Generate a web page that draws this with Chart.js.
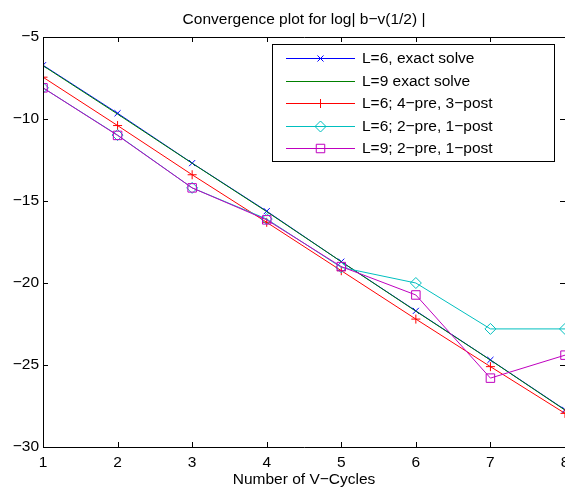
<!DOCTYPE html>
<html>
<head>
<meta charset="utf-8">
<script src="https://cdn.jsdelivr.net/npm/chart.js@4"></script>
<style>
  html, body { margin: 0; padding: 0; background: #fff; }
  #plot { display: block; }
</style>
</head>
<body>
<canvas id="plot" width="565" height="490"></canvas>
<script>
// error per V-cycle, log scale
const cycles = [1, 2, 3, 4, 5, 6, 7, 8];
const exactL6 = [-6.72, -9.65, -12.69, -15.62, -18.7, -21.7, -24.69, -27.73];
const exactL9 = [-6.75, -9.7, -12.7, -15.65, -18.7, -21.72, -24.7, -27.75];
const pre4post3L6 = [-7.45, -10.4, -13.4, -16.3, -19.25, -22.2, -25.1, -27.95];
const pre2post1L6 = [-8.1, -10.98, -14.2, -16.1, -19.05, -20.0, -22.8, -22.8];
const pre2post1L9 = [-8.1, -11.0, -14.2, -16.15, -19.0, -20.73, -25.8, -24.4];
const seriesNames = ['L=6, exact solve', 'L=9 exact solve', 'L=6; 4\u2212pre, 3\u2212post', 'L=6; 2\u2212pre, 1\u2212post', 'L=9; 2\u2212pre, 1\u2212post'];
const yTicks = [-30, -25, -20, -15, -10, -5];

const FONT = "'Liberation Sans', Arial, Helvetica, sans-serif";
const FSIZE = 15.5;

function points(vals) {
    return cycles.map((c, i) => ({x: c, y: vals[i]}));
}

function makeSet(idx, vals, color, style, radius, order) {
    return {
        label: seriesNames[idx],
        data: points(vals),
        borderColor: color,
        backgroundColor: 'rgba(0,0,0,0)',
        borderWidth: 1,
        pointStyle: style,
        pointRadius: radius,
        pointHoverRadius: radius,
        pointBorderColor: color,
        pointBackgroundColor: 'rgba(0,0,0,0)',
        pointBorderWidth: 1,
        tension: 0,
        order: order
    };
}

const minus = v => String(v).replace('-', '\u2212');

// axes frame with inward ticks on all four sides, title and legend box
const boxFrame = {
    id: 'boxFrame',
    afterDatasetsDraw(chart) {
        const {ctx, chartArea: a, scales} = chart;
        ctx.save();
        ctx.strokeStyle = '#000';
        ctx.lineWidth = 1;
        ctx.beginPath();
        ctx.rect(a.left + 0.5, a.top + 0.5, a.right - a.left, a.bottom - a.top);
        ctx.stroke();
        ctx.beginPath();
        scales.x.ticks.forEach(t => {
            const px = Math.round(scales.x.getPixelForValue(t.value)) + 0.5;
            ctx.moveTo(px, a.bottom); ctx.lineTo(px, a.bottom - 5);
            ctx.moveTo(px, a.top); ctx.lineTo(px, a.top + 5);
        });
        scales.y.ticks.forEach(t => {
            const py = Math.round(scales.y.getPixelForValue(t.value)) + 0.5;
            ctx.moveTo(a.left, py); ctx.lineTo(a.left + 5, py);
            ctx.moveTo(a.right, py); ctx.lineTo(a.right - 5, py);
        });
        ctx.stroke();
        ctx.restore();
    },
    afterDraw(chart) {
        const {ctx, chartArea: a} = chart;
        ctx.save();
        ctx.fillStyle = '#000';
        ctx.font = FSIZE + 'px ' + FONT;
        ctx.textAlign = 'center';
        ctx.textBaseline = 'middle';
        ctx.fillText('Convergence plot for log| b\u2212v(1/2) |', (a.left + a.right) / 2, 20);

        // legend
        const bx = 272.5, by = 44.5, bw = 282, bh = 117;
        ctx.fillStyle = '#fff';
        ctx.fillRect(bx, by, bw, bh);
        ctx.strokeStyle = '#000';
        ctx.lineWidth = 1;
        ctx.strokeRect(bx, by, bw, bh);
        ctx.textAlign = 'left';
        chart.data.datasets.forEach((ds, i) => {
            const y = Math.round(by + 13.5 + i * 22.5) + 0.5;
            ctx.strokeStyle = ds.borderColor;
            ctx.lineWidth = 1;
            ctx.beginPath();
            ctx.moveTo(286, y); ctx.lineTo(355, y);
            ctx.stroke();
            if (ds.pointRadius > 0) {
                ctx.fillStyle = 'rgba(0,0,0,0)';
                Chart.helpers.drawPoint(ctx, {
                    pointStyle: ds.pointStyle, radius: ds.pointRadius, rotation: 0, borderWidth: 1
                }, 320.5, y);
            }
            ctx.fillStyle = '#000';
            ctx.fillText(ds.label, 362, y);
        });
        ctx.restore();
    }
};

new Chart(document.getElementById('plot'), {
    type: 'line',
    data: {
        datasets: [
            makeSet(0, exactL6, '#0000ff', 'crossRot', 4.3, 5),
            makeSet(1, exactL9, '#008000', 'circle', 0, 4),
            makeSet(2, pre4post3L6, '#ff0000', 'cross', 4.5, 3),
            makeSet(3, pre2post1L6, '#00bfbf', 'rectRot', 5.5, 2),
            makeSet(4, pre2post1L9, '#bf00bf', 'rect', 6, 1)
        ]
    },
    options: {
        responsive: false,
        animation: false,
        events: [],
        layout: {autoPadding: false, padding: {top: 37, left: 0, right: 0, bottom: 0}},
        plugins: {
            legend: {display: false},
            title: {display: false},
            tooltip: {enabled: false}
        },
        scales: {
            x: {
                type: 'linear',
                min: 1,
                max: 8,
                grid: {display: false, drawTicks: false},
                border: {display: false},
                ticks: {
                    stepSize: 1,
                    padding: 6,
                    color: '#000',
                    font: {family: FONT, size: FSIZE},
                    maxRotation: 0,
                    autoSkip: false
                },
                title: {
                    display: true,
                    text: 'Number of V\u2212Cycles',
                    color: '#000',
                    font: {family: FONT, size: FSIZE},
                    padding: {top: 0, bottom: 1}
                },
                afterFit(scale) {
                    scale.height = 43;
                    scale.paddingLeft = 0;
                    scale.paddingRight = 0;
                }
            },
            y: {
                type: 'linear',
                min: -30,
                max: -5,
                grid: {display: false, drawTicks: false},
                border: {display: false},
                afterBuildTicks(scale) {
                    scale.ticks = yTicks.map(v => ({value: v}));
                },
                ticks: {
                    padding: 4,
                    color: '#000',
                    font: {family: FONT, size: FSIZE},
                    callback: v => minus(v)
                },
                afterFit(scale) {
                    scale.width = 43;
                    scale.paddingTop = 0;
                    scale.paddingBottom = 0;
                }
            }
        }
    },
    plugins: [boxFrame]
});
</script>
</body>
</html>
